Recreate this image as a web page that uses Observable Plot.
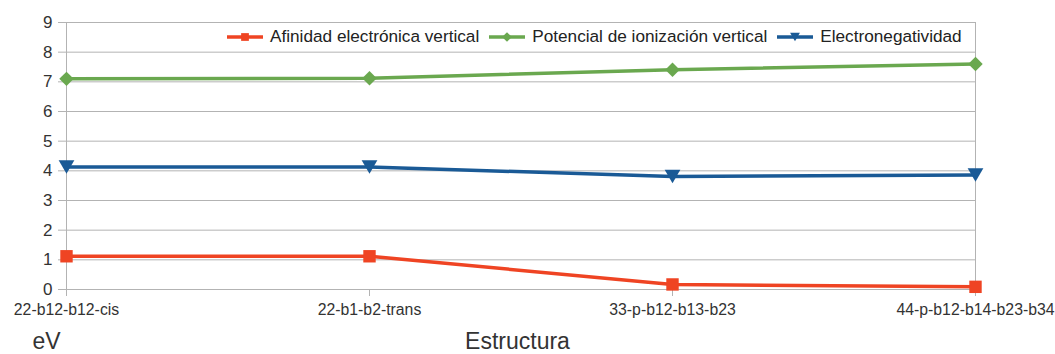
<!DOCTYPE html>
<html>
<head>
<meta charset="utf-8">
<script src="https://cdn.jsdelivr.net/npm/d3@7"></script>
<script src="https://cdn.jsdelivr.net/npm/@observablehq/plot@0.6"></script>
<style>
  html, body { margin: 0; padding: 0; background: #fff; }
  #wrap { position: relative; width: 1055px; height: 354px; font-family: "Liberation Sans", Arial, sans-serif; }
  #legend { position: absolute; left: 218px; top: 23px; width: 756px; height: 27px; background: #fff;
    display: flex; align-items: center; justify-content: flex-start; gap: 9px; font-size: 17.2px; color: #222; padding-left: 8px; box-sizing: border-box; white-space: nowrap; }
  .item { display: flex; align-items: center; gap: 6px; }
  .item svg { display: block; }
</style>
</head>
<body>
<div id="wrap"><div id="legend"></div></div>
<script>
const categories = ["22-b12-b12-cis", "22-b1-b2-trans", "33-p-b12-b13-b23", "44-p-b12-b14-b23-b34"];
const seriesNames = ["Afinidad electrónica vertical", "Potencial de ionización vertical", "Electronegatividad"];
const afinidad = [1.12, 1.12, 0.17, 0.09];
const potencial = [7.1, 7.12, 7.41, 7.6];
const electroneg = [4.13, 4.13, 3.81, 3.86];
const yTicks = [0, 1, 2, 3, 4, 5, 6, 7, 8, 9];
const colors = ["#ef4423", "#6aa84f", "#1a5a96"];

const triangleDown = {
  draw(context, size) {
    const s = Math.sqrt(size * 1.6);
    const h = s * Math.sqrt(3) / 2;
    context.moveTo(-s / 2, -h / 2);
    context.lineTo(s / 2, -h / 2);
    context.lineTo(0, h / 2);
    context.closePath();
  }
};
const symbols = ["square", "diamond2", triangleDown];
const symbolSizes = [7, 6.5, 7];

const allSeries = [afinidad, potencial, electroneg];
const data = [];
allSeries.forEach((vals, si) => vals.forEach((v, i) => data.push({serie: seriesNames[si], cat: categories[i], v, si})));

const marks = [
  Plot.gridY(yTicks, {stroke: "#b3b3b3", strokeOpacity: 1, strokeWidth: 1}),
  Plot.ruleX([categories[0], categories[categories.length - 1]], {stroke: "#b3b3b3", strokeWidth: 1}),
  Plot.axisY(yTicks, {tickSize: 7, tickPadding: 6, fontSize: 17, stroke: "#b3b3b3", fill: "#333", label: null}),
  Plot.axisX(categories, {tickSize: 7, tickPadding: 7, fontSize: 15.8, stroke: "#b3b3b3", fill: "#333", label: null}),
  Plot.text(["eV"], {frameAnchor: "bottom-left", dx: -19, dy: 52, fontSize: 23, fill: "#333", textAnchor: "middle", lineAnchor: "middle"}),
  Plot.text(["Estructura"], {frameAnchor: "bottom", dx: -3, dy: 52, fontSize: 23, fill: "#333", textAnchor: "middle", lineAnchor: "middle"})
];
seriesNames.forEach((name, si) => {
  const d = data.filter(r => r.si === si);
  marks.push(Plot.line(d, {x: "cat", y: "v", stroke: colors[si], strokeWidth: 3.5}));
  marks.push(Plot.dot(d, {x: "cat", y: "v", symbol: () => symbols[si], fill: colors[si], stroke: "none", r: symbolSizes[si]}));
});

const chart = Plot.plot({
  width: 1055,
  height: 354,
  marginLeft: 65,
  marginRight: 80,
  marginTop: 22,
  marginBottom: 65,
  style: {fontFamily: "'Liberation Sans', Arial, sans-serif", background: "#fff", overflow: "visible"},
  x: {type: "point", domain: categories, padding: 0, axis: null},
  y: {domain: [0, 9], axis: null},
  symbol: {type: "identity"},
  marks
});
document.getElementById("wrap").prepend(chart);

// legend
const legend = document.getElementById("legend");
seriesNames.forEach((name, si) => {
  const item = document.createElement("div");
  item.className = "item";
  const svg = d3.create("svg").attr("width", 38).attr("height", 14);
  svg.append("line").attr("x1", 1).attr("x2", 37).attr("y1", 7).attr("y2", 7).attr("stroke", colors[si]).attr("stroke-width", 3.5);
  const sym = typeof symbols[si] === "string" ? (symbols[si] === "square" ? d3.symbolSquare : d3.symbolDiamond2) : symbols[si];
  svg.append("path").attr("transform", "translate(19,7)").attr("d", d3.symbol(sym, 60)()).attr("fill", colors[si]);
  item.appendChild(svg.node());
  const span = document.createElement("span");
  span.textContent = name;
  item.appendChild(span);
  legend.appendChild(item);
});
</script>
</body>
</html>
